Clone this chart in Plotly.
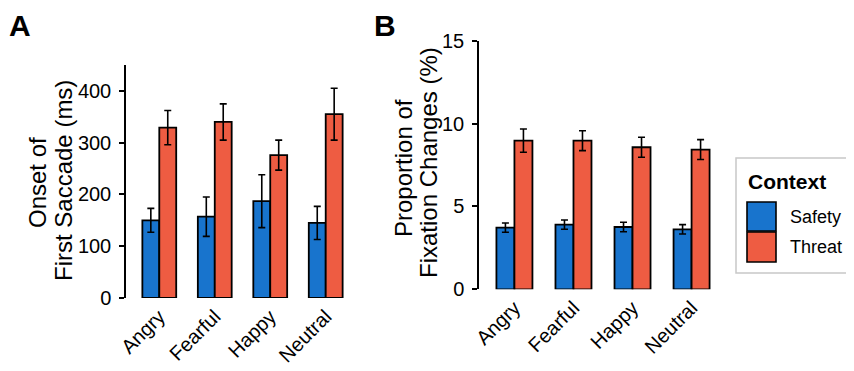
import plotly.graph_objects as go

# The page body adds an 8px margin, so the figure is sized to fit the window
OFF = 8
W, H = 854 - OFF, 371 - OFF

categories = ["Angry", "Fearful", "Happy", "Neutral"]

# Panel A: Onset of first saccade (ms)
onset_safety = [150, 157, 187, 145]
onset_safety_err = [23, 38, 51, 32]
onset_threat = [329, 340, 276, 355]
onset_threat_err = [33, 35, 29, 50]

# Panel B: Proportion of fixation changes (%)
fix_safety = [3.72, 3.90, 3.76, 3.62]
fix_safety_err = [0.28, 0.28, 0.29, 0.28]
fix_threat = [8.97, 8.97, 8.57, 8.43]
fix_threat_err = [0.70, 0.60, 0.60, 0.60]

series_names = ["Safety", "Threat"]
colors = {"Safety": "#1874CD", "Threat": "#EE5C42"}
yticks_a = [0, 100, 200, 300, 400]
yticks_b = [0, 5, 10, 15]

FONT = "Liberation Sans, Arial, sans-serif"

def px_x(p):
    return (p - OFF) / W

def px_y(p):
    return 1 - (p - OFF) / H

fig = go.Figure()

panels = [
    ("x", "y", onset_safety, onset_safety_err, onset_threat, onset_threat_err),
    ("x2", "y2", fix_safety, fix_safety_err, fix_threat, fix_threat_err),
]
for xa, ya, s, se, t, te in panels:
    for name, vals, errs in [("Safety", s, se), ("Threat", t, te)]:
        fig.add_trace(go.Bar(
            x=categories, y=vals, name=name, xaxis=xa, yaxis=ya,
            marker=dict(color=colors[name], line=dict(color="black", width=1.8)),
            error_y=dict(type="data", array=errs, visible=True,
                         color="black", thickness=1.6, width=3.5),
            showlegend=False,
        ))

ycommon = dict(
    tickfont=dict(family=FONT, size=20, color="black"),
    showgrid=False, zeroline=False, automargin=False,
    showline=True, linecolor="black", linewidth=1.5,
    ticks="outside", ticklen=5, tickwidth=1.5, tickcolor="black",
    ticklabelstandoff=4,
)
xcommon = dict(
    tickfont=dict(family=FONT, size=20, color="black"),
    showgrid=False, zeroline=False, automargin=False,
    tickangle=-45, showline=False, ticks="", range=[-0.6, 3.6],
    ticklabelstandoff=2,
)

fig.update_layout(
    width=W, height=H,
    margin=dict(l=0, r=0, t=0, b=0, pad=0),
    paper_bgcolor="white", plot_bgcolor="white",
    barmode="group", bargap=0.39, bargroupgap=0,
    font=dict(family=FONT, color="black"),
    xaxis=dict(domain=[px_x(126), px_x(359)], anchor="y", **xcommon),
    yaxis=dict(domain=[px_y(298), px_y(65)], range=[0, 450],
               anchor="x", tickvals=yticks_a, **ycommon),
    xaxis2=dict(domain=[px_x(479), px_x(727)], anchor="y2", **xcommon),
    yaxis2=dict(domain=[px_y(289.3), px_y(40.7)], range=[0, 15],
                anchor="x2", tickvals=yticks_b, **ycommon),
)

annotations = []
# Panel letters
for letter, cx in [("A", 20), ("B", 385)]:
    annotations.append(dict(text="<b>%s</b>" % letter, x=px_x(cx), y=1.0,
                            xref="paper", yref="paper", showarrow=False, borderpad=0,
                            font=dict(family=FONT, size=30, color="black"),
                            xanchor="center", yanchor="top"))
# Y-axis titles (two lines each)
for txt, cx, cy in [("Onset of", 37, 183), ("First Saccade (ms)", 63, 181),
                    ("Proportion of", 403, 168), ("Fixation Changes (%)", 428, 163)]:
    annotations.append(dict(text=txt, x=px_x(cx), y=px_y(cy), xref="paper", yref="paper",
                            showarrow=False, textangle=-90,
                            font=dict(family=FONT, size=24, color="black"),
                            xanchor="center", yanchor="middle"))

# Custom legend
shapes = []
shapes.append(dict(type="rect", xref="paper", yref="paper",
                   x0=px_x(736), x1=px_x(847), y0=px_y(273), y1=px_y(158),
                   line=dict(color="#C8C8C8", width=1.5), fillcolor="white", layer="below"))
annotations.append(dict(text="<b>Context</b>", x=px_x(746), y=px_y(181), xref="paper", yref="paper",
                        showarrow=False, font=dict(family=FONT, size=21, color="black"),
                        xanchor="left", yanchor="middle"))
key_rows = [(202, 231), (232, 262)]
for name, (top, bot) in zip(series_names, key_rows):
    shapes.append(dict(type="rect", xref="paper", yref="paper",
                       x0=px_x(747), x1=px_x(776), y0=px_y(bot), y1=px_y(top),
                       line=dict(color="black", width=1.6), fillcolor=colors[name]))
    annotations.append(dict(text=name, x=px_x(788), y=px_y((top + bot) / 2), xref="paper", yref="paper",
                            showarrow=False, font=dict(family=FONT, size=18, color="black"),
                            xanchor="left", yanchor="middle"))

fig.update_layout(annotations=annotations, shapes=shapes)

fig.write_html("out.html")
